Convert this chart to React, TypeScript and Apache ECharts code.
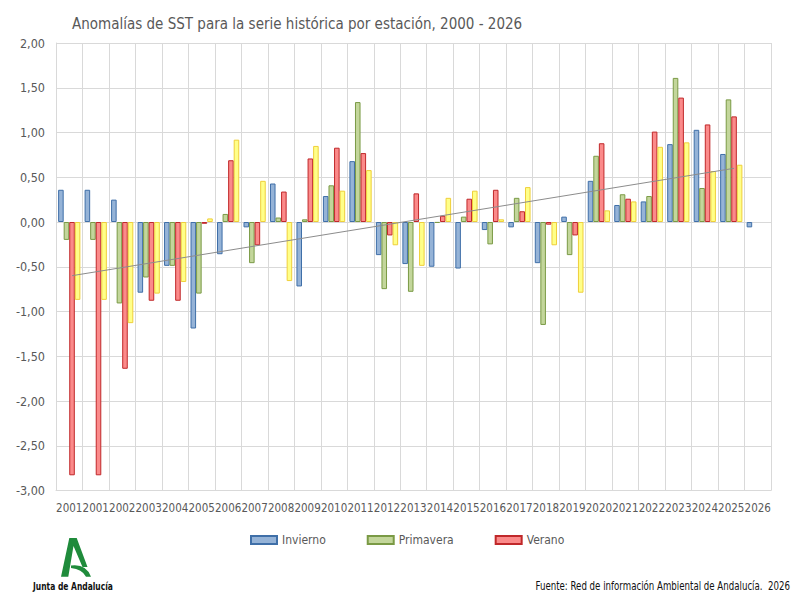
import { useEffect, useRef } from 'react'
import * as echarts from 'echarts'

const categories = [
  '2001', '2001', '2002', '2003', '2004', '2005', '2006', '2007', '2008', '2009',
  '2010', '2011', '2012', '2013', '2014', '2015', '2016', '2017', '2018', '2019',
  '2020', '2021', '2022', '2023', '2024', '2025', '2026',
]

const invierno = [
  0.36, 0.36, 0.25, -0.79, -0.49, -1.19, -0.36, -0.06, 0.43, -0.72,
  0.29, 0.68, -0.37, -0.47, -0.5, -0.52, -0.09, -0.06, -0.46, 0.06,
  0.46, 0.19, 0.23, 0.87, 1.03, 0.76, -0.06,
]
const primavera = [
  -0.2, -0.2, -0.91, -0.62, -0.49, -0.8, 0.09, -0.46, 0.05, 0.03,
  0.41, 1.34, -0.75, -0.78, -0.01, 0.06, -0.25, 0.27, -1.15, -0.37,
  0.74, 0.31, 0.29, 1.61, 0.38, 1.37, null,
]
const verano = [
  -2.83, -2.83, -1.64, -0.88, -0.88, -0.02, 0.69, -0.26, 0.34, 0.71,
  0.83, 0.77, -0.15, 0.32, 0.07, 0.26, 0.36, 0.12, -0.03, -0.15,
  0.88, 0.26, 1.01, 1.39, 1.09, 1.18, null,
]
const otono = [
  -0.87, -0.87, -1.13, -0.8, -0.67, 0.04, 0.92, 0.46, -0.66, 0.85,
  0.35, 0.58, -0.26, -0.49, 0.27, 0.35, 0.03, 0.39, -0.26, -0.79,
  0.13, 0.23, 0.84, 0.89, 0.57, 0.64, null,
]

// linear trend, read at first and last drawn point: [index, value]
const trendStart = [0, -0.6]
const trendEnd = [25, 0.6]

const yTicks = { min: -3, max: 2, interval: 0.5 }

const COND = "'DejaVu Sans Condensed', 'Liberation Sans', sans-serif"
const LOGO_D =
  'M 9.3 1 L 16.7 1 L 27.5 30 L 22.5 30 L 13.5 9 L 8.3 39.7 L 1 39.7 Z ' +
  'M 11 28.5 Q 26 26.5 31 39.7 L 26 39.7 Q 22 32 11 31 Z'

echarts.graphic.registerShape('logo', echarts.graphic.extendPath(LOGO_D, {}) as any)

export default function App() {
  const chartRef = useRef<HTMLDivElement>(null)

  useEffect(() => {
    if (!chartRef.current) return
    document.body.style.margin = '0'
    const chart = echarts.init(chartRef.current, null, { renderer: 'svg' })

    const bar = (name: string, data: (number | null)[], fill: string, border: string) => ({
      name,
      type: 'bar',
      data,
      barGap: '0%',
      barCategoryGap: '16%',
      itemStyle: { color: fill, borderColor: border, borderWidth: 1 },
    })

    const verSeries: any = bar('Verano', verano, '#fb8a8a', '#c0282a')
    verSeries.markLine = {
      silent: true,
      symbol: 'none',
      label: { show: false },
      lineStyle: { color: '#8c8c8c', width: 1, type: 'solid' },
      data: [[{ coord: trendStart }, { coord: trendEnd }]],
    }

    chart.setOption({
      animation: false,
      title: {
        text: 'Anomalías de SST para la serie histórica por estación, 2000 - 2026',
        left: 67,
        top: 11,
        textStyle: { color: '#595959', fontSize: 15, fontWeight: 'normal', fontFamily: COND },
      },
      grid: { left: 56, right: 29, top: 43, bottom: 109.5 },
      legend: {
        data: ['Invierno', 'Primavera', 'Verano'],
        left: 245,
        top: 529,
        icon: 'rect',
        itemWidth: 26,
        itemHeight: 8,
        itemGap: 41,
        textStyle: { color: '#595959', fontSize: 12, fontFamily: COND },
      },
      xAxis: {
        type: 'category',
        data: categories,
        axisTick: { show: false },
        axisLine: { onZero: false, lineStyle: { color: '#d9d9d9' } },
        splitLine: { show: true, interval: 0, lineStyle: { color: '#d9d9d9' } },
        axisLabel: { interval: 0, color: '#595959', fontSize: 11.5, fontFamily: COND, margin: 11 },
      },
      yAxis: {
        type: 'value',
        min: yTicks.min,
        max: yTicks.max,
        interval: yTicks.interval,
        axisLine: { show: true, lineStyle: { color: '#d9d9d9' } },
        axisTick: { show: false },
        splitLine: { lineStyle: { color: '#d9d9d9' } },
        axisLabel: {
          color: '#595959',
          fontSize: 12.5,
          fontFamily: COND,
          margin: 11,
          formatter: (v: number) => v.toFixed(2).replace('.', ','),
        },
      },
      series: [
        bar('Invierno', invierno, '#95b3d7', '#3f6fa8'),
        bar('Primavera', primavera, '#c3d69b', '#7a9a45'),
        verSeries,
        bar('Otoño', otono, '#ffff88', '#efcf3a'),
      ],
      graphic: [
        {
          type: 'logo',
          x: 60,
          y: 537,
          style: { fill: '#1f8b3b' },
        },
        {
          type: 'text',
          x: 33,
          y: 581,
          scaleX: 0.8,
          style: {
            text: 'Junta de Andalucía',
            fill: '#111',
            fontSize: 10.5,
            fontWeight: 'bold',
            fontFamily: COND,
          },
        },
        {
          type: 'text',
          x: 790,
          y: 580,
          scaleX: 0.8,
          style: {
            text: 'Fuente: Red de información Ambiental de Andalucía.  2026',
            fill: '#111',
            fontSize: 12,
            fontFamily: COND,
            align: 'right',
          },
        },
      ],
    })

    return () => {
      chart.dispose()
    }
  }, [])

  return <div ref={chartRef} style={{ width: 800, height: 600 }} />
}
